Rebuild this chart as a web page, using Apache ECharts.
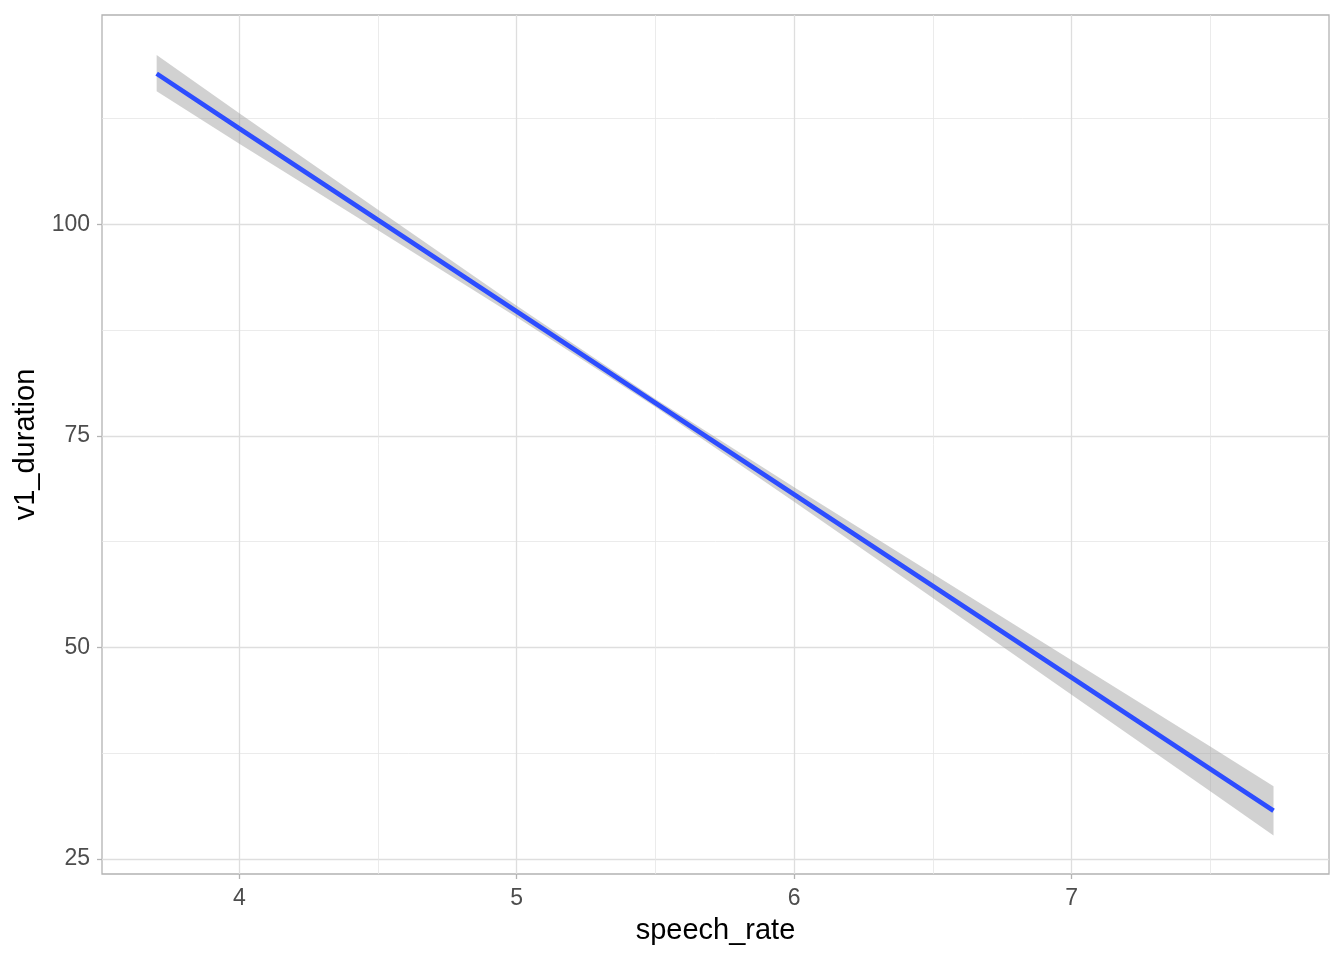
<!DOCTYPE html>
<html>
<head>
<meta charset="utf-8">
<title>v1_duration vs speech_rate</title>
<script src="https://cdn.jsdelivr.net/npm/echarts@6/dist/echarts.min.js"></script>
<style>
  html, body { margin: 0; padding: 0; background: #fff; }
  #chart { width: 1344px; height: 960px; }
</style>
</head>
<body>
<div id="chart"></div>
<script>
// values (lm fit + 95% band)
const speechRate = [3.702, 4, 4.5, 5, 5.5, 6, 6.5, 7, 7.5, 7.728];
const fitValues  = [117.8, 111.31, 100.5, 89.69, 78.88, 68.07, 57.26, 46.45, 35.64, 30.7];
const lowerBand  = [115.7, 109.5, 99.28, 89.01, 78.42, 67.21, 55.83, 44.42, 33.0, 27.79];
const upperBand  = [120.0, 113.12, 101.72, 90.37, 79.34, 68.93, 58.69, 48.48, 38.28, 33.61];

const xMajor = [4, 5, 6, 7];
const xMinor = [4.5, 5.5, 6.5, 7.5];
const yMajor = [25, 50, 75, 100];
const yMinor = [37.5, 62.5, 87.5, 112.5];

const FONT = 'Liberation Sans, Arial, Helvetica, sans-serif';

let myChart = echarts.init(document.getElementById('chart'), null, { renderer: 'canvas' });

let fitData = speechRate.map(function (x, i) { return [x, fitValues[i]]; });
let bandData = speechRate.map(function (x, i) { return [x, lowerBand[i], upperBand[i]]; });

/* band polygon: upper edge left->right, then lower edge right->left */
function renderBand(params, api) {
  if (params.dataIndex !== 0) return;
  let pts = [];
  for (let i = 0; i < speechRate.length; i++) {
    pts.push(api.coord([speechRate[i], upperBand[i]]));
  }
  for (let i = speechRate.length - 1; i >= 0; i--) {
    pts.push(api.coord([speechRate[i], lowerBand[i]]));
  }
  return {
    type: 'polygon',
    shape: { points: pts },
    style: { fill: 'rgba(153,153,153,0.45)', stroke: null }
  };
}

let option = {
  backgroundColor: '#ffffff',
  animation: false,
  grid: {
    left: 102, right: 15, top: 15, bottom: 86,
    show: true,
    backgroundColor: 'transparent',
    borderColor: '#b3b3b3',
    borderWidth: 1.3
  },
  xAxis: [
    {
      type: 'value',
      min: 3.505, max: 7.928,
      name: 'speech_rate',
      nameLocation: 'middle',
      nameGap: 42,
      nameTextStyle: { fontFamily: FONT, fontSize: 29, color: '#000' },
      axisLine: { show: false },
      axisTick: { show: true, length: 5, customValues: xMajor, lineStyle: { color: '#b3b3b3', width: 1.3 } },
      axisLabel: { customValues: xMajor, margin: 13, fontFamily: FONT, fontSize: 23, color: '#4d4d4d' },
      splitLine: { show: true, lineStyle: { color: '#dedede', width: 1.3 } }
    },
    {
      type: 'value',
      min: 3.505, max: 7.928,
      position: 'top',
      axisLine: { show: false },
      axisTick: { show: false, customValues: xMinor },
      axisLabel: { show: false, customValues: xMinor },
      splitLine: { show: true, lineStyle: { color: '#e6e6e6', width: 0.8 } }
    }
  ],
  yAxis: [
    {
      type: 'value',
      min: 23.23, max: 124.72,
      name: 'v1_duration',
      nameLocation: 'middle',
      nameGap: 62,
      nameTextStyle: { fontFamily: FONT, fontSize: 29, color: '#000' },
      axisLine: { show: false },
      axisTick: { show: true, length: 5, customValues: yMajor, lineStyle: { color: '#b3b3b3', width: 1.3 } },
      axisLabel: { customValues: yMajor, margin: 12, fontFamily: FONT, fontSize: 23, color: '#4d4d4d' },
      splitLine: { show: true, lineStyle: { color: '#dedede', width: 1.3 } }
    },
    {
      type: 'value',
      min: 23.23, max: 124.72,
      position: 'right',
      axisLine: { show: false },
      axisTick: { show: false, customValues: yMinor },
      axisLabel: { show: false, customValues: yMinor },
      splitLine: { show: true, lineStyle: { color: '#e6e6e6', width: 0.8 } }
    }
  ],
  series: [
    {
      name: 'band',
      type: 'custom',
      renderItem: renderBand,
      data: bandData,
      encode: { x: 0, y: [1, 2] },
      silent: true,
      clip: true,
      z: 3
    },
    {
      name: 'fit',
      type: 'line',
      data: fitData,
      symbol: 'none',
      lineStyle: { color: '#2d4dff', width: 4.6 },
      z: 5
    }
  ]
};

if (option && typeof option === "object") {
  myChart.setOption(option, true);
}
</script>
</body>
</html>
